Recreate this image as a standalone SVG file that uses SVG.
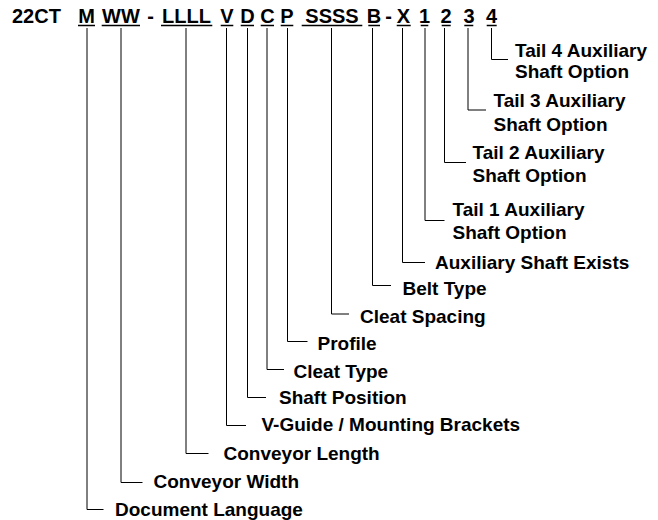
<svg xmlns="http://www.w3.org/2000/svg" width="658" height="520" viewBox="0 0 658 520">
<style>
text{font-family:"Liberation Sans",Arial,sans-serif;font-weight:bold;font-size:19px;fill:#000}
.t{font-size:20px}
.c{text-anchor:middle}
.u{stroke:#000;stroke-width:1.5}
.k{fill:none;stroke:#000;stroke-width:1}
</style>
<rect width="658" height="520" fill="#fff"/>
<g id="code">
<text class="t" x="12" y="23">22CT</text>
<text class="t c" x="86.5" y="23">M</text>
<text class="t c" x="121" y="23">WW</text>
<text class="t c" x="150.5" y="23">-</text>
<text class="t c" x="186.5" y="23">LLLL</text>
<text class="t c" x="227" y="23">V</text>
<text class="t c" x="247.5" y="23">D</text>
<text class="t c" x="267.5" y="23">C</text>
<text class="t c" x="287" y="23">P</text>
<text class="t c" x="332" y="23">SSSS</text>
<text class="t c" x="374" y="23">B</text>
<text class="t c" x="388.5" y="23">-</text>
<text class="t c" x="403.5" y="23">X</text>
<text class="t c" x="424.5" y="23">1</text>
<text class="t c" x="446" y="23">2</text>
<text class="t c" x="469" y="23">3</text>
<text class="t c" x="491.5" y="23">4</text>
<g class="u">
<line x1="78" y1="25.5" x2="95" y2="25.5"/>
<line x1="101.7" y1="25.5" x2="140" y2="25.5"/>
<line x1="161" y1="25.5" x2="212.3" y2="25.5"/>
<line x1="220.7" y1="25.5" x2="233.3" y2="25.5"/>
<line x1="240.7" y1="25.5" x2="254" y2="25.5"/>
<line x1="260.7" y1="25.5" x2="274" y2="25.5"/>
<line x1="280.7" y1="25.5" x2="293.3" y2="25.5"/>
<line x1="301.7" y1="25.5" x2="362.3" y2="25.5"/>
<line x1="368.3" y1="25.5" x2="380" y2="25.5"/>
<line x1="396.7" y1="25.5" x2="410.7" y2="25.5"/>
<line x1="420.7" y1="25.5" x2="428.3" y2="25.5"/>
<line x1="441.7" y1="25.5" x2="450.7" y2="25.5"/>
<line x1="464.3" y1="25.5" x2="473.3" y2="25.5"/>
<line x1="486.7" y1="25.5" x2="496.7" y2="25.5"/>
</g>
</g>
<g id="connectors" class="k">
<polyline points="491.5,28 491.5,59.5 508,59.5"/>
<polyline points="468,28 468,110 486,110"/>
<polyline points="444.5,28 444.5,162.5 466,162.5"/>
<polyline points="425,28 425,220.5 444.5,220.5"/>
<polyline points="402.5,28 402.5,262.5 425,262.5"/>
<polyline points="372.5,28 372.5,285.5 391,285.5"/>
<polyline points="331.5,28 331.5,314 349,314"/>
<polyline points="287.5,28 287.5,341.5 307.5,341.5"/>
<polyline points="267,28 267,369.5 284,369.5"/>
<polyline points="247.5,28 247.5,397.5 266,397.5"/>
<polyline points="226.5,28 226.5,425.5 246,425.5"/>
<polyline points="186,28 186,453.5 208.5,453.5"/>
<polyline points="121,28 121,482.5 142.5,482.5"/>
<polyline points="87,28 87,509.5 103.5,509.5"/>
</g>
<g id="tail4"><text x="515" y="57">Tail 4 Auxiliary</text><text x="515" y="78">Shaft Option</text></g>
<g id="tail3"><text x="493.5" y="107">Tail 3 Auxiliary</text><text x="493.5" y="131">Shaft Option</text></g>
<g id="tail2"><text x="472.5" y="159">Tail 2 Auxiliary</text><text x="472.5" y="182">Shaft Option</text></g>
<g id="tail1"><text x="452.5" y="216">Tail 1 Auxiliary</text><text x="452.5" y="239">Shaft Option</text></g>
<g id="auxExists"><text x="435" y="269">Auxiliary Shaft Exists</text></g>
<g id="beltType"><text x="402.5" y="295">Belt Type</text></g>
<g id="cleatSpacing"><text x="360" y="323">Cleat Spacing</text></g>
<g id="profile"><text x="317.5" y="350">Profile</text></g>
<g id="cleatType"><text x="293.5" y="378">Cleat Type</text></g>
<g id="shaftPosition"><text x="279" y="404">Shaft Position</text></g>
<g id="vguide"><text x="261.5" y="431">V-Guide / Mounting Brackets</text></g>
<g id="convLength"><text x="223.5" y="460">Conveyor Length</text></g>
<g id="convWidth"><text x="153.5" y="488">Conveyor Width</text></g>
<g id="docLang"><text x="115" y="516">Document Language</text></g>
</svg>
